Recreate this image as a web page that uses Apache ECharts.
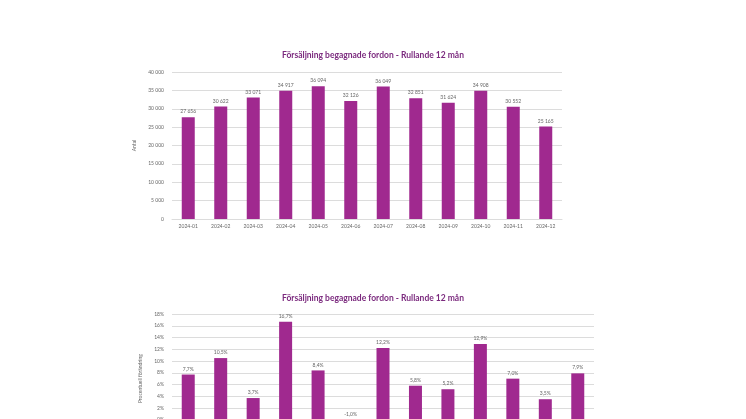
<!DOCTYPE html><html><head><meta charset="utf-8"><style>html,body{margin:0;overflow:hidden;background:#fff}#c{width:746px;height:460px}</style>
<script src="https://cdn.jsdelivr.net/npm/echarts@6/dist/echarts.min.js"></script></head><body><div id="c"></div><script>
const months=['2024-01','2024-02','2024-03','2024-04','2024-05','2024-06','2024-07','2024-08','2024-09','2024-10','2024-11','2024-12'];
const antal=[27656,30622,33071,34917,36094,32126,36049,32851,31624,34908,30552,25165];
const months2=['2023-12','2024-01','2024-02','2024-03','2024-04','2024-05','2024-06','2024-07','2024-08','2024-09','2024-10','2024-11','2024-12'];
const change=[7.7,10.5,3.7,16.7,8.4,-1.0,12.2,5.8,5.2,12.9,7.0,3.5,7.9];
const title='Försäljning begagnade fordon - Rullande 12 mån';
const purple='#a0298f', grey='#666', F='Lato';
const ax={axisLine:{show:false},axisTick:{show:false},splitLine:{lineStyle:{color:'#dcdcdc'}},axisLabel:{fontSize:5,color:grey,fontFamily:F}};
const ch=echarts.init(document.getElementById('c'));
ch.setOption({animation:false,textStyle:{fontFamily:F},
title:[{text:title,left:'center',top:46,textStyle:{fontSize:8.5,fontWeight:'bold',color:'#7b2a7e',fontFamily:F}},
{text:title,left:'center',top:289,textStyle:{fontSize:8.5,fontWeight:'bold',color:'#7b2a7e',fontFamily:F}}],
grid:[{left:172,width:390,top:72,height:147},{left:172,width:422,top:314,height:129.3}],
xAxis:[{gridIndex:0,type:'category',data:months,axisLine:{lineStyle:{color:'#dcdcdc'}},axisTick:{show:false},axisLabel:{fontSize:5,color:grey,fontFamily:F,margin:5}},
{gridIndex:1,type:'category',data:months2,axisLine:{lineStyle:{color:'#dcdcdc'}},axisTick:{show:false},axisLabel:{fontSize:5,color:grey,fontFamily:F}}],
yAxis:[Object.assign({gridIndex:0,type:'value',min:0,max:40000,interval:5000,name:'Antal',nameLocation:'middle',nameGap:23,nameTextStyle:{fontSize:5,color:grey},
 axisLabel:{fontSize:5,color:grey,fontFamily:F,formatter:v=>v.toLocaleString('sv-SE').replace(/\u00a0/g,' ')}},{axisLine:{show:false},axisTick:{show:false},splitLine:{lineStyle:{color:'#dcdcdc'}}}),
Object.assign({gridIndex:1,type:'value',min:-4,max:18,interval:2,name:'Procentuell förändring',nameLocation:'middle',nameGap:20,nameTextStyle:{fontSize:5,color:grey},
 axisLabel:{fontSize:5,color:grey,fontFamily:F,formatter:v=>v+'%'}},{axisLine:{show:false},axisTick:{show:false},splitLine:{lineStyle:{color:'#dcdcdc'}}})],
series:[{type:'bar',data:antal,barWidth:13,itemStyle:{color:purple},label:{show:true,position:'top',fontSize:5,color:grey,distance:3,formatter:p=>p.value.toLocaleString('sv-SE').replace(/\u00a0/g,' ')}},
{type:'bar',xAxisIndex:1,yAxisIndex:1,data:change,barWidth:13,itemStyle:{color:purple},label:{show:true,position:'top',fontSize:5,color:grey,distance:3,formatter:p=>p.value.toFixed(1).replace('.',',')+'%'}}]});
</script></body></html>
